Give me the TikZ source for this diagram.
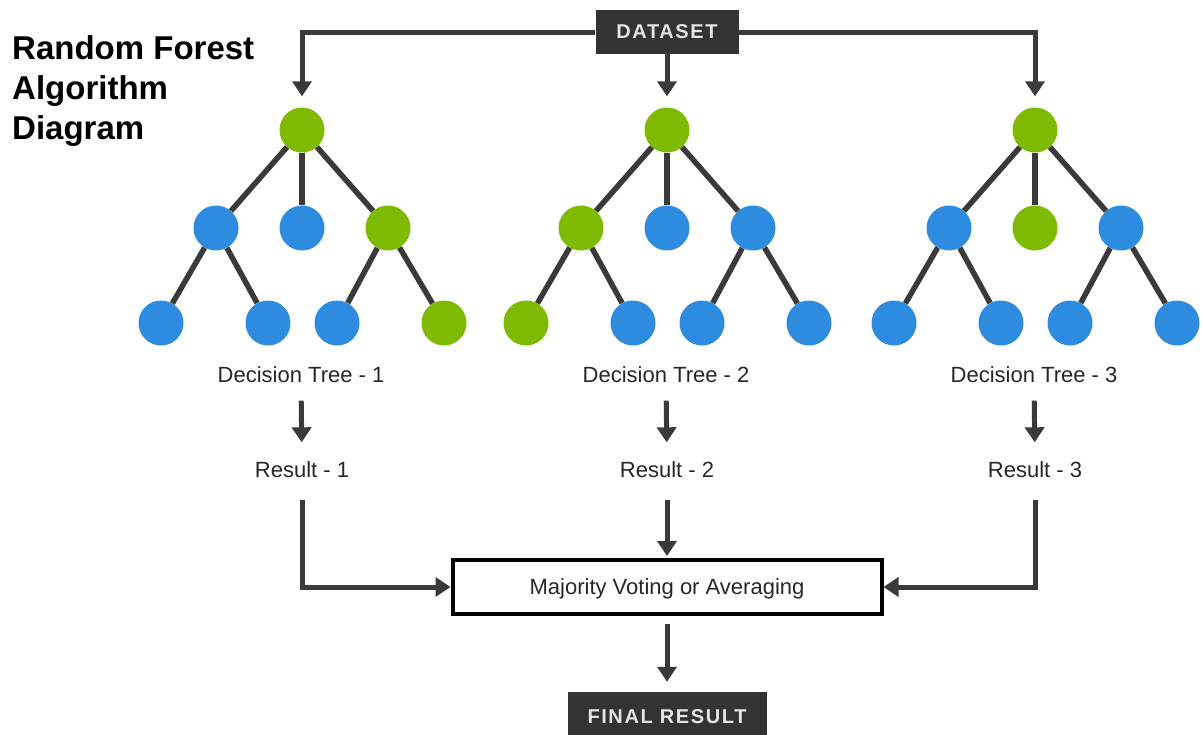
\documentclass[tikz,border=0pt]{standalone}
\usepackage{fontspec}
\setmainfont{Liberation Sans}
\usetikzlibrary{arrows.meta,positioning}
\definecolor{grn}{RGB}{125,186,0}
\definecolor{blu}{RGB}{46,140,224}
\definecolor{darkline}{RGB}{58,58,58}
\definecolor{darkbox}{RGB}{51,51,51}
\tikzset{
  leaf/.style={
    shape = circle,
    minimum size = 45pt,
    inner sep = 0pt
  },
  branch/.style={
    line width = 5.5pt,
    draw = darkline
  },
  flow/.style={
    line width = 5pt,
    draw = darkline,
    -{Triangle[width=19pt,length=15pt]}
  },
  tag/.style={
    fill = darkbox,
    text = white!90!black,
    font = \fontsize{20}{22}\selectfont\bfseries\addfontfeature{LetterSpace=8},
    inner sep = 0pt
  },
  caption/.style={
    font = \fontsize{22}{25}\selectfont,
    text = black!85,
    text height = 15pt,
    text depth = 0pt,
    inner sep = 0pt
  }
}

\begin{document}
\begin{tikzpicture}[x=1pt,y=-1pt]
    \useasboundingbox (0,0) rectangle (1202,734);
    \node[anchor=north west, align=left, inner sep=0pt,
          font=\fontsize{33}{40}\selectfont\bfseries] (title) at (12,35)
          {Random Forest\\Algorithm\\Diagram};
    \node[tag, minimum width=143pt, minimum height=44pt] (dataset) at (667,32) {DATASET};
    % three trees
    \foreach \i/\x/\kr/\ka/\kb/\kc/\kaa/\kab/\kca/\kcb in {
        1/302/grn/blu/blu/grn/blu/blu/blu/grn,
        2/667/grn/grn/blu/blu/grn/blu/blu/blu,
        3/1035/grn/blu/grn/blu/blu/blu/blu/blu}{
      \node[leaf, fill=\kr] (r\i) at (\x,130) {};
      \node[leaf, fill=\ka] (a\i) at (\x-86,228) {};
      \node[leaf, fill=\kb] (b\i) at (\x,228) {};
      \node[leaf, fill=\kc] (c\i) at (\x+86,228) {};
      \node[leaf, fill=\kaa] (aa\i) at (\x-141,323) {};
      \node[leaf, fill=\kab] (ab\i) at (\x-34,323) {};
      \node[leaf, fill=\kca] (ca\i) at (\x+35,323) {};
      \node[leaf, fill=\kcb] (cb\i) at (\x+142,323) {};
      \draw[branch] (r\i) -- (a\i);
      \draw[branch] (r\i) -- (b\i);
      \draw[branch] (r\i) -- (c\i);
      \draw[branch] (a\i) -- (aa\i);
      \draw[branch] (a\i) -- (ab\i);
      \draw[branch] (c\i) -- (ca\i);
      \draw[branch] (c\i) -- (cb\i);
      \node[caption] (dt\i) at (\x-1,375) {Decision Tree - \i};
      \node[caption] (res\i) at (\x,470) {Result - \i};
      \draw[flow, shorten <=18pt, shorten >=20pt] (dt\i.south) -- (res\i.north);
    }
    \draw[flow, shorten >=11pt] (dataset.west) -| (r1);
    \draw[flow, shorten >=11pt] (dataset.east) -| (r3);
    \draw[flow, shorten >=11pt] (dataset.south) -- (r2);
    \node[draw=black, line width=4pt, minimum width=429pt, minimum height=54pt,
          caption] (vote) at (667,587) {Majority Voting or Averaging};
    \draw[flow, shorten <=22pt] (res1.south) |- (vote.west);
    \draw[flow, shorten <=22pt] (res3.south) |- (vote.east);
    \draw[flow, shorten <=22pt, shorten >=2pt] (res2.south) -- (vote.north);
    \node[tag, minimum width=199pt, minimum height=50pt] (final) at (667,717) {FINAL RESULT};
    \draw[flow, shorten <=8pt, shorten >=10pt] (vote.south) -- (final.north);
\end{tikzpicture}
\end{document}
